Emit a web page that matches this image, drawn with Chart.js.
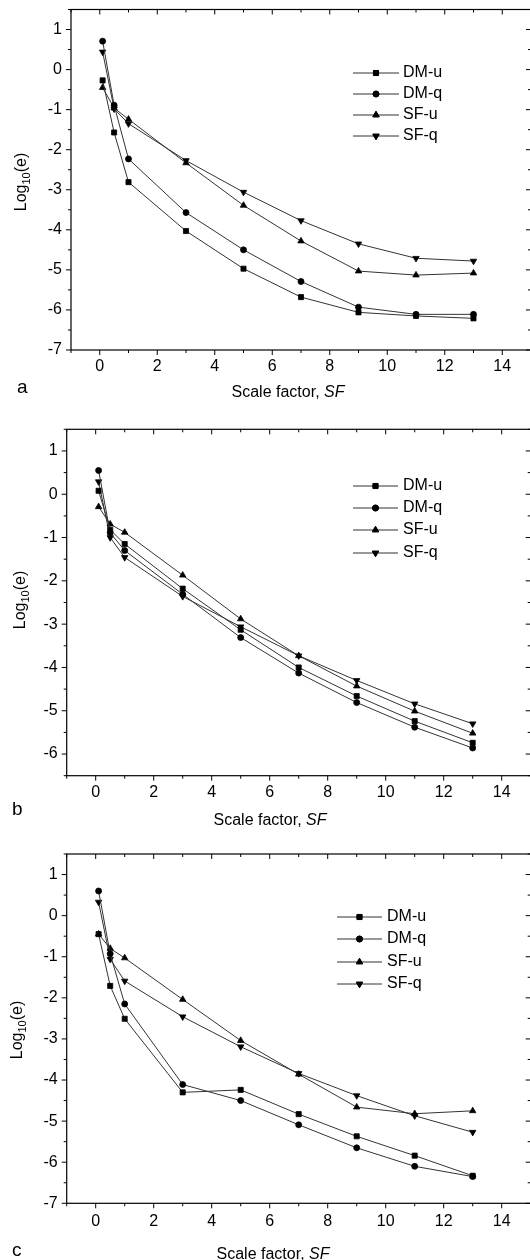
<!DOCTYPE html>
<html>
<head>
<meta charset="utf-8">
<script src="https://cdn.jsdelivr.net/npm/chart.js"></script>
<style>
  html, body { margin: 0; padding: 0; background: #fff; overflow: hidden; width: 530px; height: 1260px; }
  canvas { position: absolute; left: 0; }
</style>
</head>
<body>
<canvas id="pa" width="540" height="410" style="top:0px"></canvas>
<canvas id="pb" width="540" height="420" style="top:410px"></canvas>
<canvas id="pc" width="540" height="430" style="top:830px"></canvas>
<script>
const scaleFactors = [0.1, 0.5, 1, 3, 5, 7, 9, 11, 13];
const seriesNames = ['DM-u', 'DM-q', 'SF-u', 'SF-q'];
const xTicks = [0, 2, 4, 6, 8, 10, 12, 14];
const yTicksAC = [1, 0, -1, -2, -3, -4, -5, -6, -7];
const yTicksB = [1, 0, -1, -2, -3, -4, -5, -6];

// panel a
const aDMu = [-0.27, -1.57, -2.81, -4.03, -4.97, -5.68, -6.06, -6.15, -6.21];
const aDMq = [0.71, -0.89, -2.23, -3.57, -4.50, -5.29, -5.93, -6.11, -6.11];
const aSFu = [-0.45, -0.96, -1.24, -2.33, -3.39, -4.28, -5.03, -5.13, -5.08];
const aSFq = [0.44, -0.98, -1.35, -2.27, -3.06, -3.77, -4.35, -4.71, -4.78];

// panel b
const bDMu = [0.08, -0.82, -1.15, -2.18, -3.13, -4.00, -4.66, -5.24, -5.74];
const bDMq = [0.55, -0.89, -1.30, -2.31, -3.31, -4.13, -4.81, -5.38, -5.86];
const bSFu = [-0.29, -0.69, -0.88, -1.87, -2.88, -3.73, -4.43, -5.01, -5.52];
const bSFq = [0.29, -1.00, -1.46, -2.36, -3.06, -3.73, -4.30, -4.84, -5.30];

// panel c
const cDMu = [-0.45, -1.71, -2.51, -4.30, -4.24, -4.83, -5.37, -5.84, -6.33];
const cDMq = [0.60, -0.93, -2.15, -4.11, -4.50, -5.09, -5.65, -6.10, -6.35];
const cSFu = [-0.45, -0.80, -1.03, -2.04, -3.04, -3.86, -4.66, -4.82, -4.75];
const cSFq = [0.33, -1.06, -1.59, -2.46, -3.19, -3.84, -4.38, -4.87, -5.27];

const FONT = "'Liberation Sans', Arial, sans-serif";
const markers = [
  { style: 'rect', radius: 3.6, rotation: 0 },
  { style: 'circle', radius: 3, rotation: 0 },
  { style: 'triangle', radius: 3.7, rotation: 0 },
  { style: 'triangle', radius: 3.7, rotation: 180 }
];

function drawMarker(ctx, m, x, y) {
  if (Chart.helpers && Chart.helpers.drawPoint) {
    Chart.helpers.drawPoint(ctx, { pointStyle: m.style, radius: m.radius, rotation: m.rotation, borderWidth: 0.8 }, x, y);
    ctx.fill();
    ctx.stroke();
  }
}

const panelDeco = {
  id: 'panelDeco',
  afterDraw(chart, args, o) {
    const ctx = chart.ctx;
    const a = chart.chartArea;
    const xs = chart.scales.x, ys = chart.scales.y;
    ctx.save();
    ctx.strokeStyle = '#000';
    ctx.lineWidth = 1.2;
    ctx.strokeRect(a.left, a.top, a.right - a.left, a.bottom - a.top);
    ctx.lineWidth = 1;
    ctx.beginPath();
    for (let v = xs.min; v <= xs.max; v += 1) {
      const px = xs.getPixelForValue(v);
      const len = v % 2 === 0 ? 5 : 3;
      ctx.moveTo(px, a.bottom); ctx.lineTo(px, a.bottom + len);
      ctx.moveTo(px, a.top); ctx.lineTo(px, a.top + len);
    }
    for (let v = ys.min; v <= ys.max; v += 0.5) {
      const py = ys.getPixelForValue(v);
      const len = Number.isInteger(v) ? 5 : 3;
      ctx.moveTo(a.left, py); ctx.lineTo(a.left - len, py);
      ctx.moveTo(a.right, py); ctx.lineTo(a.right - len, py);
    }
    ctx.stroke();

    // legend
    const lg = o.legend;
    chart.data.datasets.forEach((ds, i) => {
      const y = lg.rows[i];
      ctx.strokeStyle = '#333';
      ctx.lineWidth = 1;
      ctx.beginPath();
      ctx.moveTo(lg.x1, y); ctx.lineTo(lg.x2, y);
      ctx.stroke();
      ctx.fillStyle = '#000';
      ctx.strokeStyle = '#000';
      ctx.lineWidth = 0.8;
      drawMarker(ctx, markers[i], (lg.x1 + lg.x2) / 2, y);
      ctx.fillStyle = '#000';
      ctx.font = '16px ' + FONT;
      ctx.textAlign = 'left';
      ctx.textBaseline = 'middle';
      ctx.fillText(ds.label, lg.tx, y);
    });

    // x title: "Scale factor, SF"
    ctx.fillStyle = '#000';
    ctx.textBaseline = 'alphabetic';
    ctx.textAlign = 'left';
    const t1 = 'Scale factor, ', t2 = 'SF';
    ctx.font = '16px ' + FONT;
    const w1 = ctx.measureText(t1).width;
    ctx.font = 'italic 16px ' + FONT;
    const w2 = ctx.measureText(t2).width;
    const sx = o.xTitle.cx - (w1 + w2) / 2;
    ctx.font = '16px ' + FONT;
    ctx.fillText(t1, sx, o.xTitle.y);
    ctx.font = 'italic 16px ' + FONT;
    ctx.fillText(t2, sx + w1, o.xTitle.y);

    // y title: Log10(e)
    ctx.save();
    ctx.translate(o.yTitle.x, o.yTitle.cy);
    ctx.rotate(-Math.PI / 2);
    ctx.font = '16px ' + FONT;
    const wa = ctx.measureText('Log').width, wc = ctx.measureText('(e)').width;
    ctx.font = '11px ' + FONT;
    const wb = ctx.measureText('10').width;
    const s = -(wa + wb + wc) / 2;
    ctx.font = '16px ' + FONT;
    ctx.fillText('Log', s, 6);
    ctx.font = '11px ' + FONT;
    ctx.fillText('10', s + wa, 10);
    ctx.font = '16px ' + FONT;
    ctx.fillText('(e)', s + wa + wb, 6);
    ctx.restore();

    // panel letter
    ctx.font = '19px ' + FONT;
    ctx.fillText(o.letter.text, o.letter.x, o.letter.y);
    ctx.restore();
  }
};

function noPad(s) {
  s.paddingTop = 0; s.paddingBottom = 0; s.paddingLeft = 0; s.paddingRight = 0;
}

function makeChart(id, series, yMin, yTicks, cfg) {
  const canvas = document.getElementById(id);
  const W = canvas.width, H = canvas.height;
  const area = cfg.area;
  return new Chart(canvas, {
    type: 'line',
    data: {
      datasets: series.map((vals, i) => ({
        label: seriesNames[i],
        data: scaleFactors.map((x, k) => ({ x: x, y: vals[k] })),
        borderColor: '#333',
        borderWidth: 1,
        pointStyle: markers[i].style,
        pointRadius: markers[i].radius,
        pointRotation: markers[i].rotation,
        pointBackgroundColor: '#000',
        pointBorderColor: '#000',
        pointBorderWidth: 0.8,
        tension: 0,
        fill: false
      }))
    },
    options: {
      responsive: false,
      animation: false,
      devicePixelRatio: 1,
      layout: { padding: { left: 0, top: area.top, right: W - area.right, bottom: 0 } },
      plugins: {
        legend: { display: false },
        tooltip: { enabled: false },
        panelDeco: cfg
      },
      scales: {
        x: {
          type: 'linear',
          min: -1,
          max: 15,
          grid: { display: false, drawTicks: false },
          border: { display: false },
          afterBuildTicks: (s) => { s.ticks = xTicks.map(v => ({ value: v })); },
          afterFit: (s) => { s.height = H - area.bottom; noPad(s); },
          ticks: { color: '#000', padding: cfg.xPad, maxRotation: 0, autoSkip: false, font: { family: FONT, size: 16 } }
        },
        y: {
          type: 'linear',
          min: yMin,
          max: 1.5,
          grid: { display: false, drawTicks: false },
          border: { display: false },
          afterBuildTicks: (s) => { s.ticks = yTicks.map(v => ({ value: v })); },
          afterFit: (s) => { s.width = area.left; noPad(s); },
          ticks: { color: '#000', padding: 9, autoSkip: false, font: { family: FONT, size: 16 } }
        }
      }
    },
    plugins: [panelDeco]
  });
}

makeChart('pa', [aDMu, aDMq, aSFu, aSFq], -7, yTicksAC, {
  area: { left: 71, top: 9.5, right: 531, bottom: 350 },
  xPad: 7,
  legend: { x1: 353, x2: 399, tx: 403, rows: [73, 94, 115, 136] },
  xTitle: { cx: 288, y: 397 },
  yTitle: { x: 20, cy: 182 },
  letter: { text: 'a', x: 17, y: 393 }
});

makeChart('pb', [bDMu, bDMq, bSFu, bSFq], -6.5, yTicksB, {
  area: { left: 66.7, top: 19.3, right: 530.7, bottom: 365.7 },
  xPad: 7,
  legend: { x1: 353, x2: 398, tx: 403, rows: [76, 98, 120, 143] },
  xTitle: { cx: 270, y: 415 },
  yTitle: { x: 19, cy: 190 },
  letter: { text: 'b', x: 12, y: 405 }
});

makeChart('pc', [cDMu, cDMq, cSFu, cSFq], -7, yTicksAC, {
  area: { left: 66.7, top: 24, right: 530.7, bottom: 373.3 },
  xPad: 9,
  legend: { x1: 337, x2: 382, tx: 387, rows: [87, 109, 132, 154] },
  xTitle: { cx: 273, y: 429 },
  yTitle: { x: 16, cy: 200 },
  letter: { text: 'c', x: 12, y: 426 }
});
</script>
</body>
</html>
